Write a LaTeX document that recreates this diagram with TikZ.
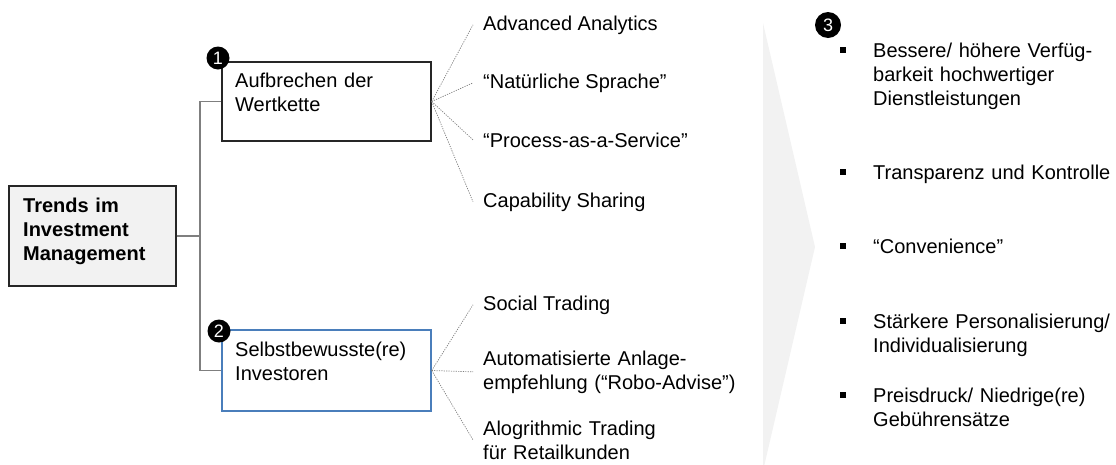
\documentclass[tikz,border=0pt]{standalone}
\usepackage{fontspec}
\setmainfont{Liberation Sans}
\definecolor{boxgray}{HTML}{F2F2F2}
\definecolor{linegray}{HTML}{7F7F7F}
\definecolor{dotgray}{HTML}{808080}
\definecolor{boxblue}{HTML}{4A7EBB}
\definecolor{edge}{HTML}{262626}
\tikzset{
  txt/.style={font=\fontsize{20}{24}\selectfont, inner sep=0pt, anchor=base west, align=left},
  mtxt/.style={txt, text width=#1},
  frame/.style={draw=edge, line width=1.4pt, inner sep=0pt},
  conn/.style={draw=linegray, line width=1.1pt},
  fine/.style={draw=dotgray, line width=0.7pt, dash pattern=on 1.2pt off 1.2pt},
  leaf/.style={font=\fontsize{20}{24}\selectfont, inner ysep=0pt, inner xsep=10pt, anchor=base west, align=left},
  badge/.style={circle, fill=black, text=white, inner sep=0pt, minimum size=#1, font=\fontsize{18}{18}\selectfont},
  bul/.style={fill=black, inner sep=0pt, minimum size=5.5pt},
}
\begin{document}
\begin{tikzpicture}[x=1pt, y=-1pt]
\useasboundingbox (0,0) rectangle (1116,464);
% chevron
\fill[boxgray] (763,23) -- (815,247) -- (763,471) -- cycle;
% main box
\node[frame, fill=boxgray, minimum width=167pt, minimum height=100pt] (m) at (92.5,236) {};
\node[mtxt=150pt, font=\fontsize{20}{24}\selectfont\bfseries] (mt) at (23,212) {Trends im\\Investment\\Management};
% box 1
\node[frame, minimum width=209pt, minimum height=79pt] (b1) at (326.5,101.5) {};
\node[mtxt=190pt] (b1t) at (235,87) {Aufbrechen der\\Wertkette};
% box 2
\node[frame, draw=boxblue, minimum width=209pt, minimum height=81pt] (b2) at (326.5,370.5) {};
\node[mtxt=190pt] (b2t) at (235,356) {Selbstbewusste(re)\\Investoren};
% tree connectors
\coordinate (j) at (200,236);
\draw[conn] (m.east) -- (j);
\draw[conn] (j) |- (b1.west);
\draw[conn] (j) |- (b2.west);
% badges
\node[badge=23pt] (n1) at (218,58) {1};
\node[badge=23pt] (n2) at (219,331) {2};
\node[badge=26pt] (n3) at (828,25) {3};
% leaves of box 1
\node[leaf] (l1) at (473,30) {Advanced Analytics};
\node[leaf] (l2) at (473,88) {“Natürliche Sprache”};
\node[leaf] (l3) at (473,147) {“Process-as-a-Service”};
\node[leaf] (l4) at (473,207) {Capability Sharing};
% leaves of box 2
\node[leaf] (l5) at (473,310) {Social Trading};
\node[leaf, text width=260pt] (l6) at (473,365) {Automatisierte Anlage-\\empfehlung (“Robo-Advise”)};
\node[leaf, text width=260pt] (l7) at (473,435) {Alogrithmic Trading\\für Retailkunden};
\foreach \l in {l1,l2,l3,l4} \draw[fine] (b1.east) -- (\l.west);
\foreach \l in {l5,l6,l7} \draw[fine] (b2.east) -- (\l.west);
% right list
\node[mtxt=240pt] (r1) at (873,57) {Bessere/ höhere Verfüg-\\barkeit hochwertiger\\Dienstleistungen};
\node[mtxt=240pt] (r2) at (873,179) {Transparenz und Kontrolle};
\node[mtxt=240pt] (r3) at (873,253) {“Convenience”};
\node[mtxt=240pt] (r4) at (873,328) {Stärkere Personalisierung/\\Individualisierung};
\node[mtxt=240pt] (r5) at (873,402) {Preisdruck/ Niedrige(re)\\Gebührensätze};
\node[bul] (p1) at (843,50) {};
\node[bul] (p2) at (843,172) {};
\node[bul] (p3) at (843,246) {};
\node[bul] (p4) at (843,321) {};
\node[bul] (p5) at (843,395) {};
\end{tikzpicture}
\end{document}
